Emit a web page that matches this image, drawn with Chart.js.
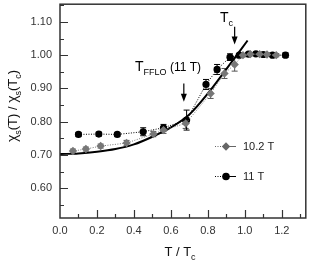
<!DOCTYPE html>
<html lang="en">
<head>
<meta charset="UTF-8">
<title>Spin susceptibility vs T/Tc</title>
<script src="https://cdn.jsdelivr.net/npm/chart.js"></script>
<style>
  html, body { margin: 0; padding: 0; background: #fff; }
  #wrap { width: 310px; height: 265px; }
</style>
</head>
<body>
<div id="wrap"><canvas id="chart"></canvas></div>
<script>
// data
const t11  = [0.10, 0.21, 0.31, 0.45, 0.56, 0.685, 0.79, 0.85, 0.92, 0.97, 1.02, 1.06, 1.10, 1.15, 1.22];
const v11  = [0.762, 0.763, 0.762, 0.770, 0.782, 0.805, 0.912, 0.957, 0.994, 1.000, 1.003, 1.004, 1.002, 1.000, 1.000];
const e11  = [0.006, 0.006, 0.006, 0.012, 0.010, 0.030, 0.015, 0.015, 0.010, 0.005, 0.005, 0.005, 0.005, 0.005, 0.007];

const t102 = [0.07, 0.14, 0.22, 0.36, 0.505, 0.56, 0.68, 0.815, 0.89, 0.945, 0.99, 1.03, 1.08, 1.12, 1.17];
const v102 = [0.712, 0.718, 0.727, 0.736, 0.763, 0.775, 0.795, 0.885, 0.945, 0.972, 1.000, 1.003, 1.003, 1.002, 1.000];
const e102 = [0.006, 0.006, 0.006, 0.008, 0.008, 0.010, 0.015, 0.015, 0.015, 0.020, 0.005, 0.005, 0.005, 0.005, 0.005];

const tFit = [0, 0.1, 0.2, 0.3, 0.4, 0.5, 0.6, 0.7, 0.8, 0.9, 1.015];
const vFit = [0.703, 0.705, 0.710, 0.718, 0.732, 0.755, 0.783, 0.822, 0.885, 0.958, 1.044];

const xTicks = [0, 0.2, 0.4, 0.6, 0.8, 1.0, 1.2];
const yTicks = [0.60, 0.70, 0.80, 0.90, 1.00, 1.10];

const FONT = '"Liberation Sans", Arial, sans-serif';

function pts(xs, ys) { return xs.map((x, i) => ({ x: x, y: ys[i] })); }

// draws text made of pieces, some of them subscripts
function rich(ctx, parts, x, y, center) {
  let w = 0;
  parts.forEach(p => { ctx.font = p.size + 'px ' + FONT; w += ctx.measureText(p.t).width; });
  let cx = center ? x - w / 2 : x;
  parts.forEach(p => {
    ctx.font = p.size + 'px ' + FONT;
    ctx.fillText(p.t, cx, y + (p.dy || 0));
    cx += ctx.measureText(p.t).width;
  });
}

function arrow(ctx, x, y0, y1) {
  ctx.beginPath();
  ctx.moveTo(x, y0); ctx.lineTo(x, y1 - 6);
  ctx.lineWidth = 1.2; ctx.strokeStyle = '#000'; ctx.stroke();
  ctx.beginPath();
  ctx.moveTo(x - 3, y1 - 8); ctx.lineTo(x + 3, y1 - 8); ctx.lineTo(x, y1);
  ctx.closePath(); ctx.fillStyle = '#000'; ctx.fill();
}

const errorBars = {
  id: 'errorBars',
  beforeDatasetsDraw(chart) {
    const ctx = chart.ctx, xs = chart.scales.x, ys = chart.scales.y;
    const sets = [[t102, v102, e102, '#555'], [t11, v11, e11, '#000']];
    ctx.save();
    ctx.lineWidth = 1;
    sets.forEach(([tt, vv, ee, col]) => {
      ctx.strokeStyle = col;
      tt.forEach((t, i) => {
        const px = xs.getPixelForValue(t);
        const a = ys.getPixelForValue(vv[i] + ee[i]);
        const b = ys.getPixelForValue(vv[i] - ee[i]);
        ctx.beginPath();
        ctx.moveTo(px, a); ctx.lineTo(px, b);
        ctx.moveTo(px - 3, a); ctx.lineTo(px + 3, a);
        ctx.moveTo(px - 3, b); ctx.lineTo(px + 3, b);
        ctx.stroke();
      });
    });
    ctx.restore();
  }
};

const decor = {
  id: 'decor',
  afterDraw(chart) {
    const ctx = chart.ctx, a = chart.chartArea, xs = chart.scales.x, ys = chart.scales.y;
    ctx.save();
    // frame
    ctx.strokeStyle = '#333';
    ctx.lineWidth = 1.5;
    ctx.strokeRect(a.left, a.top, a.right - a.left, a.bottom - a.top);

    // inward ticks
    ctx.lineWidth = 1.2;
    ctx.beginPath();
    for (let v = 0.55; v < 1.151; v += 0.05) {
      const py = Math.round(ys.getPixelForValue(v)) + 0.5;
      const major = Math.abs(v * 10 - Math.round(v * 10)) < 0.01;
      ctx.moveTo(a.left, py); ctx.lineTo(a.left + (major ? 8 : 4), py);
    }
    for (let t = 0.1; t < 1.33; t += 0.1) {
      const px = Math.round(xs.getPixelForValue(t)) + 0.5;
      const major = Math.round(t * 10) % 2 === 0;
      ctx.moveTo(px, a.bottom); ctx.lineTo(px, a.bottom - (major ? 8 : 4));
    }
    ctx.stroke();

    ctx.fillStyle = '#000';
    ctx.textBaseline = 'alphabetic';
    ctx.textAlign = 'left';

    // T_FFLO annotation
    rich(ctx, [{ t: 'T', size: 14 }, { t: 'FFLO', size: 9, dy: 4 }, { t: ' (11 T)', size: 12 }], 135, 71, false);
    arrow(ctx, xs.getPixelForValue(0.67), ys.getPixelForValue(0.915), ys.getPixelForValue(0.86));

    // Tc annotation
    rich(ctx, [{ t: 'T', size: 14 }, { t: 'c', size: 9, dy: 4 }], 220, 22, false);
    arrow(ctx, xs.getPixelForValue(0.945), ys.getPixelForValue(1.085), ys.getPixelForValue(1.032));

    // legend
    const leg = [['10.2 T', '#666', 'rectRot', 146], ['11 T', '#000', 'circle', 176]];
    leg.forEach(([txt, col, shape, y]) => {
      ctx.strokeStyle = col;
      ctx.lineWidth = 1;
      ctx.setLineDash([1, 1.5]);
      ctx.beginPath(); ctx.moveTo(215, y + 0.5); ctx.lineTo(226, y + 0.5); ctx.stroke();
      ctx.setLineDash([]);
      ctx.beginPath(); ctx.moveTo(226, y + 0.5); ctx.lineTo(236, y + 0.5); ctx.stroke();
      ctx.fillStyle = col;
      Chart.helpers.drawPoint(ctx, { pointStyle: shape, radius: shape === 'circle' ? 3.8 : 4.2, borderWidth: 0 }, 226, y + 0.5);
      ctx.fillStyle = '#222';
      ctx.font = '11px ' + FONT;
      ctx.textBaseline = 'middle';
      ctx.fillText(txt, 243, y + 1);
    });

    // axis titles
    ctx.fillStyle = '#111';
    ctx.textBaseline = 'alphabetic';
    rich(ctx, [{ t: 'T / T', size: 13 }, { t: 'c', size: 9, dy: 4 }], 180, 256, true);

    ctx.translate(17, 106);
    ctx.rotate(-Math.PI / 2);
    rich(ctx, [{ t: 'χ', size: 14 }, { t: 's', size: 9, dy: 4 }, { t: '(T) / ', size: 13 },
               { t: 'χ', size: 14 }, { t: 's', size: 9, dy: 4 }, { t: '(T', size: 13 },
               { t: 'c', size: 9, dy: 4 }, { t: ')', size: 13 }], 0, 0, true);
    ctx.restore();
  }
};

new Chart(document.getElementById('chart'), {
  type: 'scatter',
  data: {
    datasets: [
      {
        label: 'fit',
        data: pts(tFit, vFit),
        showLine: true,
        borderColor: '#000',
        borderWidth: 2,
        pointRadius: 0,
        cubicInterpolationMode: 'monotone',
        order: 3
      },
      {
        label: '10.2 T',
        data: pts(t102, v102),
        showLine: true,
        borderColor: '#777',
        borderWidth: 1,
        borderDash: [1, 1.5],
        pointStyle: 'rectRot',
        pointRadius: 4.2,
        pointBackgroundColor: '#777',
        pointBorderWidth: 0,
        order: 1
      },
      {
        label: '11 T',
        data: pts(t11, v11),
        showLine: true,
        borderColor: '#000',
        borderWidth: 1,
        borderDash: [1, 1.5],
        pointStyle: 'circle',
        pointRadius: 3.6,
        pointBackgroundColor: '#000',
        pointBorderWidth: 0,
        order: 2
      }
    ]
  },
  options: {
    responsive: true,
    maintainAspectRatio: false,
    animation: false,
    layout: { padding: { top: 1, right: 1, left: 0, bottom: 0 } },
    plugins: { legend: { display: false }, tooltip: { enabled: false } },
    scales: {
      x: {
        type: 'linear',
        min: 0, max: 1.33,
        grid: { display: false, drawTicks: false },
        border: { display: false },
        afterBuildTicks: s => { s.ticks = xTicks.map(v => ({ value: v })); },
        afterFit: s => { s.height = 47; s.paddingLeft = 0; s.paddingRight = 0; },
        ticks: {
          padding: 6,
          color: '#333',
          font: { family: FONT, size: 11 },
          maxRotation: 0,
          callback: v => v.toFixed(1)
        }
      },
      y: {
        type: 'linear',
        min: 0.511, max: 1.153,
        grid: { display: false, drawTicks: false },
        border: { display: false },
        afterBuildTicks: s => { s.ticks = yTicks.map(v => ({ value: v })); },
        afterFit: s => { s.width = 60; s.paddingTop = 0; s.paddingBottom = 0; },
        ticks: {
          padding: 8,
          color: '#333',
          font: { family: FONT, size: 11 },
          callback: v => v.toFixed(2)
        }
      }
    }
  },
  plugins: [errorBars, decor]
});
</script>
</body>
</html>
